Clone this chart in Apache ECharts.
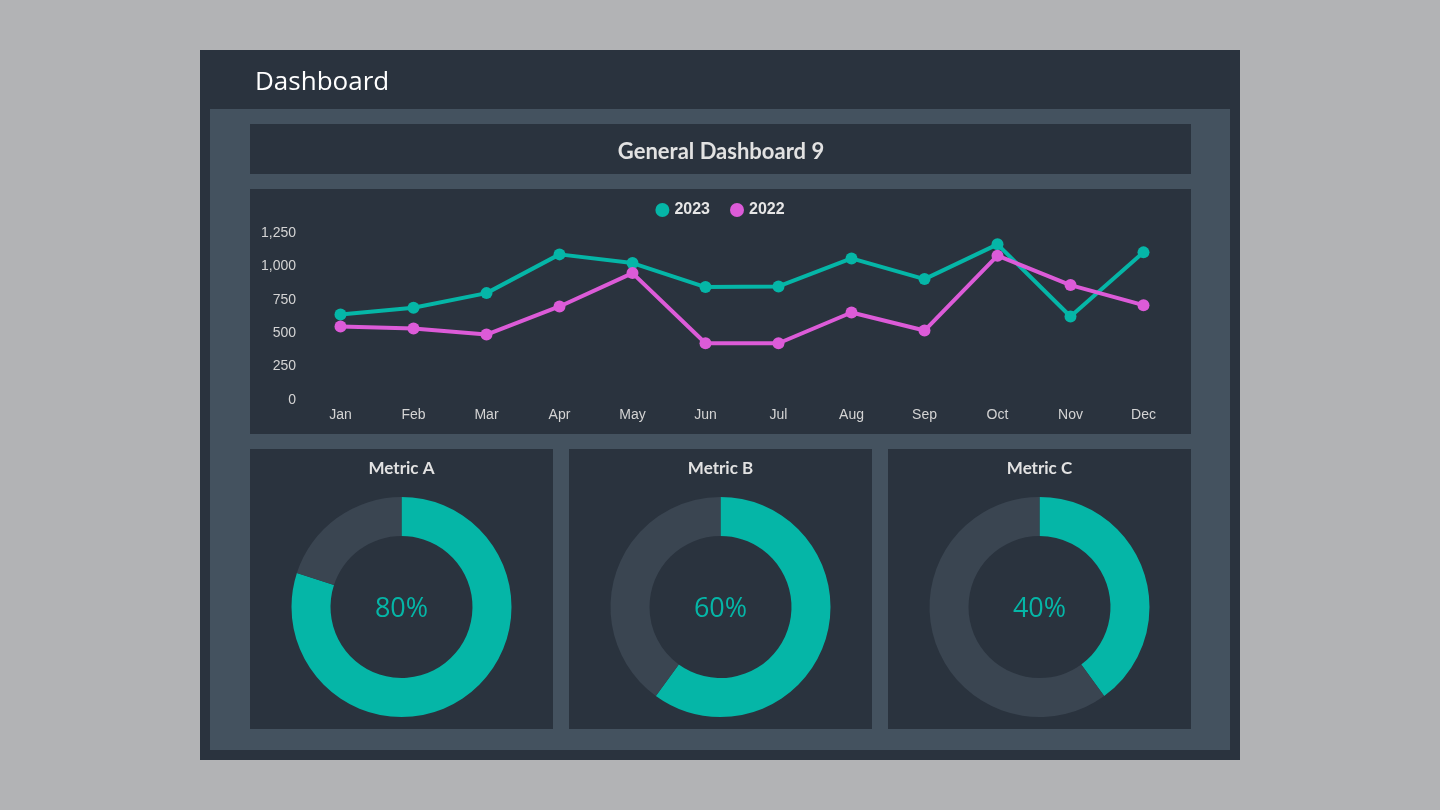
<!DOCTYPE html>
<html><head><meta charset="utf-8">
<style>html,body{margin:0;padding:0;background:#b2b3b5;}#c{width:1440px;height:810px;}</style>
<script src="https://cdn.jsdelivr.net/npm/echarts@6/dist/echarts.min.js"></script>
</head><body><div id="c"></div>
<script>
const months = ['Jan','Feb','Mar','Apr','May','Jun','Jul','Aug','Sep','Oct','Nov','Dec'];
const values2023 = [640, 690, 800, 1090, 1025, 845, 850, 1060, 905, 1165, 625, 1105];
const values2022 = [550, 535, 490, 700, 950, 425, 425, 655, 520, 1080, 860, 710];
const yTicks = [0, 250, 500, 750, 1000, 1250];
const metricNames = ['Metric A', 'Metric B', 'Metric C'];
const metricValues = [80, 60, 40];

const TEAL = '#05b6a7', PINK = '#dc5bd8', DARK = '#2a333e', MID = '#44525f', REST = '#3a4551';
const chart = echarts.init(document.getElementById('c'), null, {renderer:'canvas'});

const boxes = [
  {x:200,y:50,w:1040,h:710,c:DARK},
  {x:210,y:109,w:1020,h:641,c:MID},
  {x:250,y:124,w:941,h:50,c:DARK},
  {x:250,y:189,w:941,h:245,c:DARK},
  {x:250,y:449,w:303,h:280,c:DARK},
  {x:569,y:449,w:303,h:280,c:DARK},
  {x:888,y:449,w:303,h:280,c:DARK}
];
const pieCenters = [[401.5,607],[720.5,607],[1039.5,607]];

const option = {
  backgroundColor: '#b2b3b5',
  animation: false,
  graphic: boxes.map(b => ({type:'rect', z:-10, silent:true, shape:{x:b.x,y:b.y,width:b.w,height:b.h}, style:{fill:b.c}})),
  title: [
    {text:'Dashboard', left:255, top:70, padding:0, textStyle:{color:'#ffffff', fontSize:26, fontWeight:'normal', fontFamily:'Open Sans'}},
    {text:'General Dashboard 9', left:721, top:141, padding:0, textAlign:'center', textStyle:{color:'#e2e2e2', fontSize:22, fontWeight:'bold', fontFamily:'Lato'}},
  ].concat(metricNames.map((n,i)=>({text:n, left:pieCenters[i][0], top:460, padding:0, textAlign:'center', textStyle:{color:'#e2e2e2', fontSize:17, fontWeight:'bold', fontFamily:'Lato'}})))
   .concat(metricValues.map((v,i)=>({text:v+'%', left:pieCenters[i][0], top:596, padding:0, textAlign:'center', textStyle:{color:TEAL, fontSize:27, fontWeight:'normal', fontFamily:'Open Sans'}}))),
  legend: {
    top: 202, left: 'center', icon:'circle', itemWidth:14, itemHeight:14, itemGap:20, padding:0,
    data:['2023','2022'],
    textStyle:{color:'#e6e6e6', fontSize:16, fontWeight:'bold', fontFamily:'Liberation Sans'}
  },
  grid: {left:304, right:260, top:233, bottom:410, containLabel:false},
  xAxis: {
    type:'category', data: months, boundaryGap:true,
    axisLine:{show:false}, axisTick:{show:false},
    axisLabel:{color:'#d4d4d4', fontSize:14, fontFamily:'Liberation Sans', margin:8}
  },
  yAxis: {
    type:'value', min:0, max:1250, interval:250,
    splitLine:{show:false}, axisLine:{show:false}, axisTick:{show:false},
    axisLabel:{color:'#d4d4d4', fontSize:14, fontFamily:'Liberation Sans', margin:8,
      formatter: v => yTicks.includes(v) ? v.toLocaleString('en-US') : ''}
  },
  series: [
    {name:'2023', type:'line', data: values2023, color:TEAL, symbol:'circle', symbolSize:12, lineStyle:{width:4, color:TEAL}, itemStyle:{color:TEAL}, z:3},
    {name:'2022', type:'line', data: values2022, color:PINK, symbol:'circle', symbolSize:12, lineStyle:{width:4, color:PINK}, itemStyle:{color:PINK}, z:4}
  ].concat(metricValues.map((v,i)=>({
    type:'pie', center: pieCenters[i], radius:[71,110], startAngle:90, clockwise:true,
    label:{show:false}, labelLine:{show:false}, silent:true,
    data:[{value:v, itemStyle:{color:TEAL}},{value:100-v, itemStyle:{color:REST}}]
  })))
};
chart.setOption(option);
</script></body></html>
